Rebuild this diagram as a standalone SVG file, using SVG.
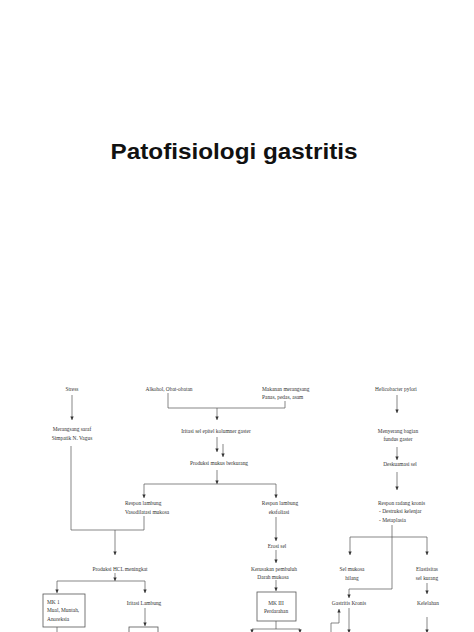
<svg xmlns="http://www.w3.org/2000/svg" width="474" height="632" viewBox="0 0 474 632">
<style>
.title{font-family:"Liberation Sans",Arial,sans-serif;font-weight:bold;font-size:22px;fill:#111;text-anchor:middle}
.t{font-family:"Liberation Serif","Times New Roman",serif;font-size:5.4px;fill:#333}
.c{text-anchor:middle}
.ln{stroke:#555;stroke-width:0.7;fill:none}
.bx{stroke:#555;stroke-width:0.8;fill:#fff}
</style>
<defs>
<marker id="ah" markerUnits="userSpaceOnUse" markerWidth="4" markerHeight="4" refX="3.6" refY="2" orient="auto">
<path d="M0,0.3 L3.6,2 L0,3.7 z" fill="#333"/>
</marker>
</defs>
<rect width="474" height="632" fill="#fff"/>
<text class="title" x="234" y="159" textLength="247" lengthAdjust="spacingAndGlyphs">Patofisiologi gastritis</text>

<g id="connectors">
<path class="ln" d="M72,395 V420" marker-end="url(#ah)"/>
<path class="ln" d="M71,446 V530"/>
<path class="ln" d="M168,393 V408 H285 V401"/>
<path class="ln" d="M217,408 V420" marker-end="url(#ah)"/>
<path class="ln" d="M217,437 V452" marker-end="url(#ah)"/>
<path class="ln" d="M223,444 V457" marker-end="url(#ah)"/>
<path class="ln" d="M217,470 V484" marker-end="url(#ah)"/>
<path class="ln" d="M144,484 H276"/>
<path class="ln" d="M144,484 V498" marker-end="url(#ah)"/>
<path class="ln" d="M276,484 V498" marker-end="url(#ah)"/>
<path class="ln" d="M144,516 V530 H71"/>
<path class="ln" d="M115,530 V555" marker-end="url(#ah)"/>
<path class="ln" d="M115,573 V581" marker-end="url(#ah)"/>
<path class="ln" d="M57,581 H145"/>
<path class="ln" d="M57,581 V593" marker-end="url(#ah)"/>
<path class="ln" d="M145,581 V593" marker-end="url(#ah)"/>
<path class="ln" d="M145,608 V626" marker-end="url(#ah)"/>
<path class="ln" d="M57,627 V632"/>
<path class="ln" d="M276,517 V541" marker-end="url(#ah)"/>
<path class="ln" d="M276,550 V563" marker-end="url(#ah)"/>
<path class="ln" d="M276,580 V591" marker-end="url(#ah)"/>
<path class="ln" d="M276,621 V629"/>
<path class="ln" d="M252,629 H300"/>
<path class="ln" d="M252,629 V633" marker-end="url(#ah)"/>
<path class="ln" d="M300,629 V633" marker-end="url(#ah)"/>
<path class="ln" d="M397,395 V413" marker-end="url(#ah)"/>
<path class="ln" d="M397,447 V460" marker-end="url(#ah)"/>
<path class="ln" d="M397,472 V490" marker-end="url(#ah)"/>
<path class="ln" d="M392,525 V589 H349 V598" marker-end="url(#ah)"/>
<path class="ln" d="M350,537 H427"/>
<path class="ln" d="M350,537 V555" marker-end="url(#ah)"/>
<path class="ln" d="M427,537 V555" marker-end="url(#ah)"/>
<path class="ln" d="M427,583 V594" marker-end="url(#ah)"/>
<path class="ln" d="M349,608 V633" marker-end="url(#ah)"/>
<path class="ln" d="M427,617 V633" marker-end="url(#ah)"/>
<path class="ln" d="M331,632 V623 H339 V609" marker-end="url(#ah)"/>
</g>

<g id="stress"><text class="t c" x="72" y="391">Stress</text></g>
<g id="alkohol"><text class="t c" x="169" y="391">Alkohol, Obat-obatan</text></g>
<g id="makanan"><text class="t" x="262" y="391">Makanan merangsang</text><text class="t" x="262" y="399">Panas, pedas, asam</text></g>
<g id="merangsang-saraf"><text class="t c" x="72" y="431">Merangsang saraf</text><text class="t c" x="72" y="440">Simpatik N. Vagus</text></g>
<g id="iritasi-sel"><text class="t c" x="216" y="433">Iritasi sel epitel kolumner gaster</text></g>
<g id="produksi-mukus"><text class="t c" x="219" y="465">Produksi mukus berkurang</text></g>
<g id="respon-vasodilatasi"><text class="t" x="125" y="505">Respon lambung</text><text class="t" x="125" y="514">Vasodilatasi mukosa</text></g>
<g id="respon-eksfoliasi"><text class="t c" x="280" y="505">Respon lambung</text><text class="t c" x="279" y="514">eksfoliasi</text></g>
<g id="erosi"><text class="t c" x="277" y="548">Erosi sel</text></g>
<g id="kerusakan"><text class="t c" x="274" y="571">Kerusakan pembuluh</text><text class="t c" x="273" y="579">Darah mukosa</text></g>
<g id="mk3"><rect class="bx" x="257" y="592" width="39" height="29"/><text class="t c" x="276" y="605">MK III</text><text class="t c" x="276" y="613">Perdarahan</text></g>
<g id="produksi-hcl"><text class="t c" x="120" y="571">Produksi HCL meningkat</text></g>
<g id="mk1"><rect class="bx" x="43" y="594" width="42" height="33"/><text class="t" x="47" y="604">MK 1</text><text class="t" x="47" y="612">Mual, Muntah,</text><text class="t" x="47" y="621">Anoreksia</text></g>
<g id="iritasi-lambung"><text class="t c" x="144" y="605">Iritasi Lambung</text></g>
<g id="box-bawah"><rect class="bx" x="129" y="627" width="29" height="12"/></g>
<g id="helicobacter"><text class="t c" x="396" y="391">Helicobacter pylori</text></g>
<g id="menyerang"><text class="t c" x="398" y="433">Menyerang bagian</text><text class="t c" x="398" y="441">fundus gaster</text></g>
<g id="deskuamasi"><text class="t c" x="400" y="466">Deskuamasi sel</text></g>
<g id="respon-radang"><text class="t" x="378" y="505">Respon radang kronis</text><text class="t" x="379" y="513">- Destruksi kelenjar</text><text class="t" x="379" y="522">- Metaplasia</text></g>
<g id="sel-mukosa"><text class="t c" x="352" y="571">Sel mukosa</text><text class="t c" x="352" y="580">hilang</text></g>
<g id="elastisitas"><text class="t c" x="427" y="571">Elastisitas</text><text class="t c" x="427" y="580">sel kurang</text></g>
<g id="gastritis-kronis"><text class="t c" x="349" y="605">Gastritis Kronis</text></g>
<g id="kelelahan"><text class="t c" x="428" y="605">Kelelahan</text></g>
</svg>
